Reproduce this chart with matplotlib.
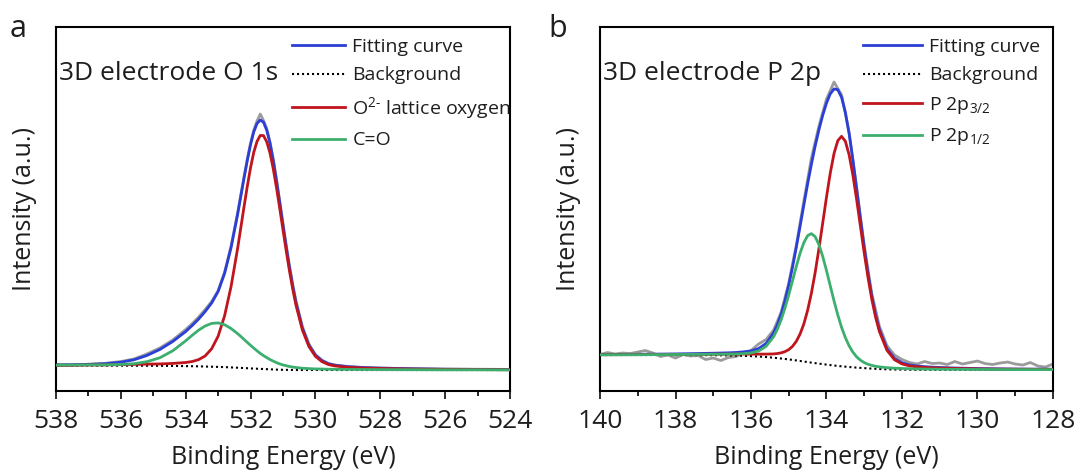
import matplotlib
matplotlib.use("Agg")
import matplotlib.pyplot as plt
from matplotlib.ticker import MultipleLocator

# ---- panel a: O 1s (binding energy in eV, intensity in arbitrary units) ----
o1s_be = [538.0, 537.5, 537.0, 536.5, 536.0, 535.6, 535.2, 534.8, 534.4, 534.0,
          533.8, 533.6, 533.4, 533.2, 533.0, 532.8, 532.6, 532.4, 532.3, 532.2,
          532.1, 532.0, 531.9, 531.8, 531.7, 531.6, 531.5, 531.4, 531.3, 531.2,
          531.1, 531.0, 530.9, 530.8, 530.7, 530.6, 530.4, 530.2, 530.0, 529.8,
          529.6, 529.4, 529.0, 528.5, 528.0, 527.0, 526.0, 525.0, 524.0]
o1s_raw = [26.3, 26.0, 26.8, 27.6, 29.5, 32.0, 37.0, 43.0, 51.0, 61.5,
           67.5, 74.0, 81.5, 89.5, 100.5, 119.0, 145.0, 178.0, 196.5, 214.5,
           232.0, 248.0, 261.0, 270.0, 277.0, 270.5, 262.5, 249.0, 232.0, 211.5,
           190.0, 167.5, 146.0, 125.5, 107.0, 90.5, 64.5, 47.0, 36.5, 31.0,
           27.5, 26.0, 24.5, 23.5, 23.0, 22.3, 22.0, 21.8, 21.6]
o1s_fit = [26.1, 26.3, 26.6, 27.3, 28.8, 31.2, 35.5, 41.5, 49.5, 59.5,
           65.5, 72.0, 79.5, 88.0, 99.5, 117.7, 143.5, 176.4, 194.7, 213.0,
           230.6, 246.4, 259.2, 267.5, 271.0, 268.8, 260.7, 247.8, 230.6, 210.4,
           188.5, 166.2, 144.3, 123.6, 105.0, 88.5, 62.7, 45.9, 35.8, 30.4,
           27.3, 25.8, 24.3, 23.4, 22.9, 22.2, 21.8, 21.6, 21.45]
o1s_bg = [25.5, 25.5, 25.5, 25.4, 25.4, 25.3, 25.3, 25.2, 25.1, 24.9,
          24.8, 24.7, 24.5, 24.3, 24.1, 23.9, 23.6, 23.3, 23.15, 23.0,
          22.8, 22.6, 22.45, 22.3, 22.15, 22.0, 21.85, 21.7, 21.55, 21.4,
          21.3, 21.2, 21.15, 21.1, 21.05, 21.0, 21.0, 21.0, 21.0, 21.0,
          21.0, 21.0, 21.0, 21.0, 21.0, 21.0, 21.0, 21.0, 21.0]
o1s_lattice = [25.7, 25.8, 26.0, 26.1, 26.4, 26.6, 26.9, 27.1, 27.6, 28.5,
               29.5, 31.4, 35.1, 42.2, 54.8, 75.3, 104.6, 142.3, 163.3, 184.4,
               204.8, 223.3, 238.8, 249.6, 255.6, 255.4, 249.2, 238.0, 222.3, 203.4,
               182.7, 161.3, 140.2, 120.2, 102.1, 86.0, 60.9, 44.5, 34.7, 29.4,
               26.5, 25.1, 23.7, 22.9, 22.5, 21.9, 21.6, 21.4, 21.3]
o1s_co = [25.9, 26.0, 26.1, 26.2, 26.6, 27.3, 29.3, 33.2, 40.2, 50.2,
          55.7, 60.9, 65.0, 67.6, 68.1, 66.3, 62.5, 57.4, 54.6, 51.6,
          48.6, 45.7, 42.9, 40.2, 37.6, 35.4, 33.4, 31.5, 29.9, 28.4,
          27.1, 26.1, 25.3, 24.5, 24.0, 23.5, 22.8, 22.4, 22.1, 22.0,
          21.8, 21.7, 21.6, 21.5, 21.4, 21.3, 21.2, 21.2, 21.1]

# ---- panel b: P 2p ----
p2p_be = [140.0, 139.5, 139.0, 138.5, 138.0, 137.5, 137.0, 136.8, 136.6, 136.4,
          136.2, 136.0, 135.8, 135.6, 135.4, 135.3, 135.2, 135.1, 135.0, 134.9,
          134.8, 134.7, 134.6, 134.5, 134.4, 134.3, 134.2, 134.1, 134.0, 133.9,
          133.8, 133.7, 133.6, 133.5, 133.4, 133.3, 133.2, 133.1, 133.0, 132.9,
          132.8, 132.7, 132.6, 132.4, 132.2, 132.0, 131.8, 131.6, 131.4, 131.2,
          131.0, 130.5, 130.0, 129.5, 129.0, 128.5, 128.0]
p2p_fit = [36.5, 36.6, 36.7, 36.9, 37.1, 37.4, 37.8, 38.0, 38.2, 38.55,
           39.15, 40.1, 42.4, 47.6, 58.2, 66.5, 77.1, 90.3, 105.9, 123.9,
           143.7, 164.7, 186.0, 207.1, 226.8, 245.0, 261.3, 275.8, 288.0, 297.2,
           302.1, 301.3, 293.6, 278.7, 257.2, 230.8, 201.7, 172.0, 143.4, 117.5,
           95.0, 76.5, 61.75, 42.45, 32.65, 28.25, 26.1, 24.95, 24.35, 23.85,
           23.5, 22.9, 22.45, 22.2, 22.0, 21.9, 21.8]
p2p_bg = [36.0, 36.0, 36.0, 36.0, 36.0, 35.9, 35.8, 35.7, 35.6, 35.4,
          35.2, 34.9, 34.5, 34.0, 33.3, 32.9, 32.5, 32.05, 31.6, 31.1,
          30.6, 30.05, 29.5, 28.95, 28.4, 27.9, 27.4, 26.9, 26.4, 25.95,
          25.5, 25.1, 24.7, 24.35, 24.0, 23.7, 23.4, 23.15, 22.9, 22.65,
          22.4, 22.2, 22.0, 21.7, 21.5, 21.4, 21.3, 21.2, 21.2, 21.2,
          21.2, 21.2, 21.2, 21.2, 21.2, 21.2, 21.2]
p2p_32 = [36.3, 36.35, 36.4, 36.5, 36.6, 36.7, 36.8, 36.9, 36.9, 36.9,
          37.0, 36.9, 36.9, 36.9, 37.1, 37.5, 38.2, 39.4, 41.4, 44.7,
          49.7, 57.0, 67.1, 80.7, 97.8, 118.6, 142.4, 168.1, 194.0, 218.0,
          237.6, 250.4, 254.7, 249.7, 236.1, 215.7, 191.0, 164.4, 137.9, 113.4,
          91.8, 73.9, 59.6, 40.8, 31.3, 27.1, 25.1, 24.1, 23.6, 23.2,
          22.95, 22.45, 22.1, 21.9, 21.8, 21.7, 21.6]
p2p_12 = [36.2, 36.3, 36.3, 36.4, 36.5, 36.6, 36.8, 36.8, 36.9, 37.05,
          37.35, 38.1, 40.0, 44.7, 54.4, 61.9, 71.4, 82.95, 96.1, 110.3,
          124.6, 137.75, 148.4, 155.35, 157.4, 154.3, 146.3, 134.6, 120.4, 105.15,
          90.0, 76.0, 63.6, 53.35, 45.1, 38.8, 34.1, 30.8, 28.4, 26.75,
          25.6, 24.75, 24.15, 23.35, 22.85, 22.55, 22.3, 22.05, 21.95, 21.85,
          21.8, 21.65, 21.55, 21.5, 21.4, 21.4, 21.4]
p2p_raw_be = [140.0, 139.8, 139.6, 139.4, 139.2, 139.0, 138.8, 138.6, 138.4, 138.2,
              138.0, 137.8, 137.6, 137.4, 137.2, 137.0, 136.8, 136.6, 136.4, 136.2,
              136.0, 135.8, 135.6, 135.4, 135.2, 135.0, 134.8, 134.6, 134.4, 134.2,
              134.0, 133.8, 133.6, 133.4, 133.2, 133.0, 132.8, 132.6, 132.4, 132.2,
              132.0, 131.8, 131.6, 131.4, 131.2, 131.0, 130.8, 130.6, 130.4, 130.2,
              130.0, 129.8, 129.6, 129.4, 129.2, 129.0, 128.8, 128.6, 128.4, 128.2, 128.0]
p2p_raw = [36.5, 38.5, 37.0, 38.0, 37.5, 39.0, 40.5, 38.0, 34.5, 36.0,
           33.0, 36.5, 35.0, 35.5, 31.5, 33.0, 30.5, 33.5, 34.5, 38.0,
           40.5, 47.0, 51.5, 61.0, 79.0, 108.0, 146.0, 190.0, 233.0, 265.0,
           292.0, 309.0, 296.0, 258.5, 203.0, 145.5, 97.5, 65.0, 45.5, 36.0,
           31.5, 28.5, 27.0, 29.5, 27.5, 28.0, 26.5, 29.5, 27.0, 28.5,
           30.0, 27.5, 26.5, 28.0, 29.0, 27.0, 26.0, 28.5, 25.0, 24.0, 27.0]

o1s_labels = ["Fitting curve", "Background", r"O$^{2\text{-}}$ lattice oxygen", "C=O"]
p2p_labels = ["Fitting curve", "Background", r"P 2p$_{3/2}$", r"P 2p$_{1/2}$"]

BLUE, RED, GREEN, GRAY = "#2b3fd6", "#c0151d", "#3caf6e", "#9b9b9b"
TXT = "#1e1e1e"

plt.rcParams["font.family"] = "Open Sans"
plt.rcParams["mathtext.fontset"] = "custom"
plt.rcParams["mathtext.rm"] = "Open Sans"
plt.rcParams["mathtext.it"] = "Open Sans"
plt.rcParams["mathtext.default"] = "regular"

fig = plt.figure(figsize=(10.85, 4.75), dpi=100)
ax_a = fig.add_axes([0.0516, 0.1768, 0.4184, 0.7663])
ax_b = fig.add_axes([0.5530, 0.1768, 0.4175, 0.7663])


def draw_panel(ax, be, raw_be, raw, fit, bg, comp1, comp2, labels, xlim, title,
               leg_x, hlen):
    ax.plot(raw_be, raw, color=GRAY, lw=2.0, zorder=1)
    h_fit, = ax.plot(be, fit, color=BLUE, lw=2.0, zorder=2)
    h_bg, = ax.plot(be, bg, color="black", lw=1.5, ls=(0, (1, 1.4)), zorder=3)
    h1, = ax.plot(be, comp1, color=RED, lw=2.0, zorder=4)
    h2, = ax.plot(be, comp2, color=GREEN, lw=2.0, zorder=5)

    ax.set_xlim(*xlim)
    ax.set_ylim(0, 364)
    ax.set_yticks([])
    ax.xaxis.set_major_locator(MultipleLocator(2))
    ax.xaxis.set_minor_locator(MultipleLocator(1))
    ax.tick_params(axis="x", which="major", direction="out", length=6, width=1.3,
                   labelsize=19, pad=7, colors=TXT)
    ax.tick_params(axis="x", which="minor", direction="out", length=3.5, width=1.2)
    for sp in ax.spines.values():
        sp.set_linewidth(1.5)
        sp.set_color("black")

    ax.set_xlabel("Binding Energy (eV)", fontsize=18, color=TXT, labelpad=8)
    ax.set_ylabel("Intensity (a.u.)", fontsize=18, color=TXT, labelpad=14)
    ax.text(0.006, 0.855, title, transform=ax.transAxes, fontsize=19, color=TXT,
            ha="left", va="baseline")

    ax.legend([h_fit, h_bg, h1, h2], labels, loc="upper left",
              bbox_to_anchor=(leg_x, 0.97), frameon=False, fontsize=14,
              handlelength=hlen, handletextpad=0.38, labelspacing=0.54,
              borderpad=0, borderaxespad=0, labelcolor=TXT)


draw_panel(ax_a, o1s_be, o1s_be, o1s_raw, o1s_fit, o1s_bg, o1s_lattice, o1s_co,
           o1s_labels, (538, 524), "3D electrode O 1s", 0.519, 2.75)
draw_panel(ax_b, p2p_be, p2p_raw_be, p2p_raw, p2p_fit, p2p_bg, p2p_32, p2p_12,
           p2p_labels, (140, 128), "3D electrode P 2p", 0.581, 3.0)

fig.text(0.0166, 0.923, "a", fontsize=22, color=TXT, ha="center", va="baseline")
fig.text(0.5143, 0.923, "b", fontsize=22, color=TXT, ha="center", va="baseline")

fig.savefig("out.png", dpi=100)
